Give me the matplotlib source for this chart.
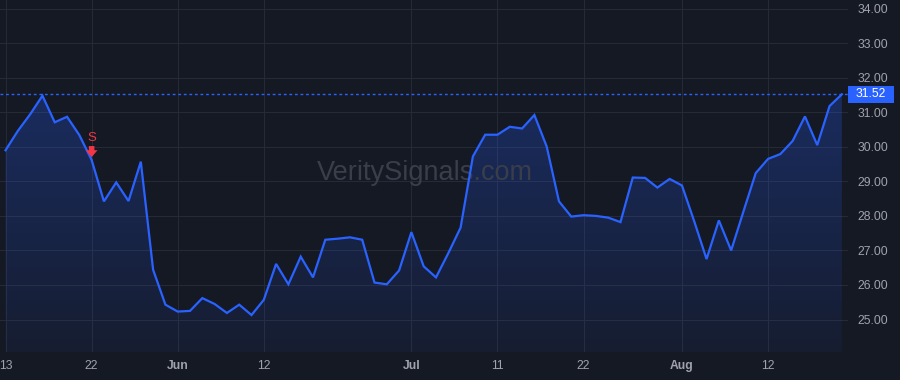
import matplotlib
matplotlib.use("Agg")
import matplotlib.pyplot as plt
import matplotlib.transforms as mtransforms
from matplotlib.patches import Rectangle
import numpy as np

# closing prices, one per trading day (13 May -> 20 Aug)
closes = [29.90, 30.46, 30.94, 31.48, 30.71, 30.87, 30.34, 29.62, 28.42, 28.97,
          28.43, 29.57, 26.44, 25.43, 25.23, 25.25, 25.62, 25.45, 25.19, 25.43,
          25.13, 25.57, 26.61, 26.02, 26.82, 26.22, 27.31, 27.34, 27.38, 27.31,
          26.07, 26.02, 26.42, 27.53, 26.54, 26.22, 26.92, 27.66, 29.72, 30.35,
          30.35, 30.58, 30.53, 30.92, 30.01, 28.42, 27.98, 28.02, 28.00, 27.95,
          27.82, 29.11, 29.10, 28.82, 29.07, 28.88, 27.84, 26.75, 27.87, 27.00,
          28.13, 29.24, 29.65, 29.79, 30.17, 30.88, 30.05, 31.18, 31.52]
last_price = 31.52

# x-axis ticks (trading-day index) and labels
tick_idx = [0, 7, 14, 21, 33, 40, 47, 55, 62]
tick_labels = ["13", "22", "Jun", "12", "Jul", "11", "22", "Aug", "12"]
month_labels = ["Jun", "Jul", "Aug"]
price_ticks = [25, 26, 27, 28, 29, 30, 31, 32, 33, 34]

# sell signal
signal_idx = 7
signal_text = "S"

BG = "#151924"
GRID = "#262a36"
TXT = "#a0a3ac"
BLUE = "#2962ff"
RED = "#f23645"

plt.rcParams["font.family"] = ["Liberation Sans", "DejaVu Sans"]

fig = plt.figure(figsize=(9, 3.8), dpi=100, facecolor=BG)
ax = fig.add_axes([0, 28 / 380, 848 / 900, 352 / 380], facecolor=BG)

x = np.arange(len(closes))
ymin, ymax = 24.06, 34.25
xmin, xmax = -0.45, 68.5

# gradient area under the line
poly = ax.fill_between(x, closes, ymin, color="none", lw=0)
n = 256
grad = np.zeros((n, 1, 4))
grad[..., 0] = 0.16
grad[..., 1] = 0.38
grad[..., 2] = 1.0
grad[:, 0, 3] = np.linspace(0.06, 0.27, n)
img = ax.imshow(grad, extent=[xmin, xmax, ymin, max(closes)], origin="lower",
                aspect="auto", zorder=1, interpolation="bilinear")
img.set_clip_path(poly.get_paths()[0], transform=ax.transData)

ax.plot(x, closes, color=BLUE, lw=1.6, zorder=3, solid_joinstyle="miter")

# last price line + label
ax.axhline(last_price, color=BLUE, lw=1, ls=(0, (2, 2)), zorder=2)
trans = mtransforms.blended_transform_factory(ax.transAxes, ax.transData)
box_w = 46 / 848
box_h = 8.5 / 34.56
ax.add_patch(Rectangle((1.0, last_price - box_h), box_w, 2 * box_h,
                       transform=trans, facecolor=BLUE, edgecolor="none",
                       clip_on=False, zorder=5))
ax.text(1.0 + box_w / 2, last_price, f"{last_price:.2f}", transform=trans,
        ha="center", va="center", color="white", fontsize=8.7, zorder=6,
        clip_on=False)

# signal marker
sv = closes[signal_idx]
ax.annotate("", xy=(signal_idx, sv), xytext=(0, 10), textcoords="offset points",
            arrowprops=dict(arrowstyle="simple,head_length=0.5,head_width=0.85,tail_width=0.4",
                            color=RED, lw=0, shrinkA=0, shrinkB=2), zorder=6)
ax.annotate(signal_text, xy=(signal_idx, sv), xytext=(0, 15.5), textcoords="offset points",
            ha="center", va="center", color=RED, fontsize=9.5, zorder=6)

# watermark
ax.text(0.501, 0.508, "VeritySignals.com", transform=ax.transAxes, ha="center",
        va="center", fontsize=19.5, color="#3a3e4a", zorder=2)

ax.set_xlim(xmin, xmax)
ax.set_ylim(ymin, ymax)

ax.set_xticks(tick_idx)
ax.set_xticklabels(tick_labels)
for lab in ax.get_xticklabels():
    if lab.get_text() in month_labels:
        lab.set_fontweight("bold")
ax.set_yticks(price_ticks)
ax.set_yticklabels([f"{v:.2f}" for v in price_ticks])
ax.yaxis.tick_right()
ax.tick_params(axis="both", length=0, colors=TXT, labelsize=8.7)
ax.tick_params(axis="y", pad=7)
ax.tick_params(axis="x", pad=6)
ax.grid(True, color=GRID, lw=0.8, zorder=0)
ax.set_axisbelow(True)
for s in ax.spines.values():
    s.set_visible(False)

fig.savefig("out.png", dpi=100, facecolor=BG)
